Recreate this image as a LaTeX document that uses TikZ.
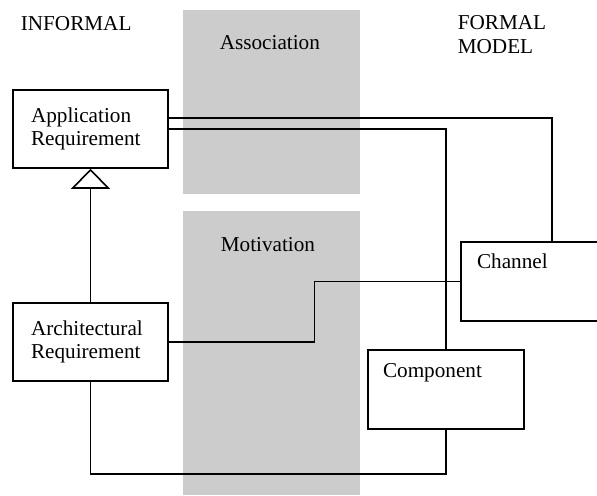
\documentclass[tikz,border=0pt]{standalone}
\usepackage{fontspec}
\setmainfont{Liberation Serif}
\usetikzlibrary{arrows.meta,calc}
\begin{document}
\begin{tikzpicture}[x=0.5pt, y=-0.5pt, line width=0.8pt,
    every node/.style={font=\fontsize{10.6}{11.8}\selectfont},
    band/.style={fill=black!20, draw=none},
    reqbox/.style={draw, fill=white, text width=59.5pt, inner xsep=9pt, minimum height=39pt, align=left},
    modelbox/.style={draw, fill=white, minimum height=39.5pt},
    heading/.style={anchor=north west, inner sep=0pt, align=left}]
    \useasboundingbox (0,0) rectangle (597,495);
    \clip (0,0) rectangle (597,495);
    % shaded bands
    \fill[band] (183,10) rectangle (360,194);
    \fill[band] (183,211) rectangle (360,495);
    % headings
    \node[heading] (informal) at (20,16) {INFORMAL};
    \node[heading] (formal) at (457,15) {FORMAL\\MODEL};
    \node[heading] (assoc) at (219,35) {Association};
    \node[heading] (motiv) at (220,237) {Motivation};
    % boxes
    \node[reqbox] (appreq) at (90.5,129) {Application\\Requirement};
    \node[reqbox] (archreq) at (90.5,342) {Architectural\\Requirement};
    \node[modelbox, minimum width=91pt,
        label={[heading, xshift=8pt, yshift=-6pt]north west:Channel}] (channel) at (552,281.5) {};
    \node[modelbox, minimum width=78pt,
        label={[heading, xshift=7.5pt, yshift=-6.5pt]north west:Component}] (component) at (446,389.5) {};
    % connectors
    \draw[-{Triangle[open, width=19.5pt, length=10pt]}] (archreq.north) -- (appreq.south);
    \draw ([yshift=5.5pt]appreq.east) -| (channel.north);
    \draw (appreq.east) -| (component.north);
    \draw (archreq.east) -| ($(archreq.east)!.5!(channel.west)$) |- (channel.west);
    \coordinate (corner) at (90.5,474);
    \draw (archreq.south) -- (corner) -| (component.south);
\end{tikzpicture}
\end{document}
